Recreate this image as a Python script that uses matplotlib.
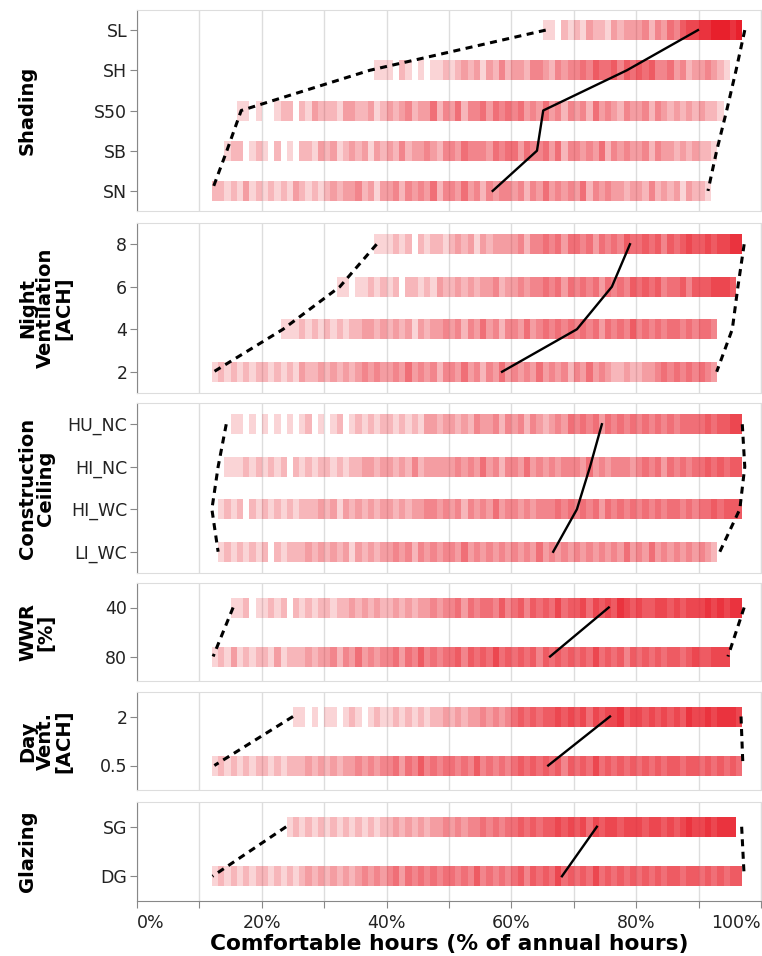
import matplotlib.pyplot as plt
import matplotlib.colors as mcolors
import numpy as np

W, H = 762, 956
RED = "#e8202c"

# strips: one shade digit (0 = empty .. 9 = darkest) per 1 % bin, from 10 % to 99 %
shading_labels = ["SL", "SH", "S50", "SB", "SN"]
shading_strips = [
    "0000000000 0000000000 0000000000 0000000000 0000000000 0000011021 2132213233 3424354677 8899989000",
    "0000000000 0000000000 0000000011 1021010112 1232313242 3324432434 4546556465 6564453423 3432100000",
    "0000001101 0012202132 2213322312 3234233524 3524453545 4534353424 3425343243 3424323232 3221000000",
    "0000122012 1020102213 2312323132 3242334324 4354443545 5354453524 4343524343 3424332323 2210000000",
    "0022121312 1212132121 2323342313 3424343524 4353424344 3424353434 3524343323 3242323132 2100000000",
]
shading_min = [65.5, 37.3, 16.7, 14.4, 12.0]
shading_median = [89.9, 78.5, 65.1, 64.1, 57.0]
shading_max = [97.4, 96.0, 94.5, 92.9, 91.5]

nightvent_labels = ["8", "6", "4", "2"]
nightvent_strips = [
    "0000000000 0000000000 0000000011 1212021221 2323132333 3424454535 5453545465 5656465676 6767788000",
    "0000000000 0000000000 0011011212 1202212132 2323233423 3434454535 4545354546 5656455646 6677760000",
    "0000000000 0001112121 2121223323 2323132334 3424353424 4353454545 4545354546 4545455454 5540000000",
    "0012121212 2121213223 2323234343 3435343424 4353424353 4343534342 4353432232 2334545454 5430000000",
]
nightvent_min = [38.4, 32.5, 23.4, 12.3]
nightvent_median = [79.0, 76.1, 70.5, 58.5]
nightvent_max = [97.3, 96.3, 95.4, 92.9]

ceiling_labels = ["HU_NC", "HI_NC", "HI_WC", "LI_WC"]
ceiling_strips = [
    "0000011010 1010101201 0120121212 2121213323 3232433424 3424323435 4545354545 4545454555 5656677000",
    "0000111212 1212021212 2121223323 3232423333 3434353424 4353434344 4353434443 4545354545 5656566000",
    "0001212021 2121212223 2313232323 3232334434 3424343534 4343444545 4545354545 4545455454 5565666000",
    "0001212121 2021222323 2323132323 3434243434 4353434343 4343534343 4343434353 4353434343 4320000000",
]
ceiling_min = [14.3, 13.0, 12.0, 13.0]
ceiling_median = [74.5, 72.6, 70.5, 66.7]
ceiling_max = [97.0, 97.4, 96.6, 93.4]

wwr_labels = ["40", "80"]
wwr_strips = [
    "0000011201 1212021212 2122323232 2323233434 4535455464 5646565756 6757676876 7667767677 7878788000",
    "0012131212 2131222323 3424353434 4535464545 5646565756 5656465656 5657565646 5656566567 6677700000",
]
wwr_min = [15.4, 12.2]
wwr_median = [75.6, 66.2]
wwr_max = [97.3, 94.7]

dayvent_labels = ["2", "0.5"]
dayvent_strips = [
    "0000000000 0000011010 1101210121 1212121223 2323343434 5656566767 6757677867 7676767687 7878887000",
    "0012121212 2121222323 2323343434 4535464545 5454645454 5656565646 5657565656 5656566566 5656565000",
]
dayvent_min = [25.0, 12.4]
dayvent_median = [75.8, 65.9]
dayvent_max = [96.8, 97.1]

glazing_labels = ["SG", "DG"]
glazing_strips = [
    "0000000000 0000121212 1212121212 2323232334 3434454545 5656566767 6757677677 7677676787 7878880000",
    "0012121212 2121212323 2323234343 4535454545 5454645454 5646565756 5657565656 5656566566 5656566000",
]
glazing_min = [23.9, 12.1]
glazing_median = [73.7, 68.1]
glazing_max = [96.9, 97.3]

panels = [
    ("Shading", shading_labels, shading_strips, shading_min, shading_median, shading_max),
    ("Night\nVentilation\n[ACH]", nightvent_labels, nightvent_strips, nightvent_min, nightvent_median, nightvent_max),
    ("Construction\nCeiling", ceiling_labels, ceiling_strips, ceiling_min, ceiling_median, ceiling_max),
    ("WWR\n[%]", wwr_labels, wwr_strips, wwr_min, wwr_median, wwr_max),
    ("Day\nVent.\n[ACH]", dayvent_labels, dayvent_strips, dayvent_min, dayvent_median, dayvent_max),
    ("Glazing", glazing_labels, glazing_strips, glazing_min, glazing_median, glazing_max),
]

# panel top / bottom in pixels
bounds = [(10, 211), (223, 393), (403, 573), (583, 681), (692, 790), (802, 901)]
LEFT, RIGHT = 137, 761
STRIP_PX = 20


def strip_row(ax, y, code, height):
    shades = np.array([int(c) for c in code.replace(" ", "")])
    left = np.arange(shades.size) + 10
    colors = np.zeros((shades.size, 4))
    colors[:, :3] = mcolors.to_rgb(RED)
    colors[:, 3] = (shades / 9) ** 0.75
    keep = shades > 0
    ax.barh(np.full(keep.sum(), y), 1, left=left[keep], height=height,
            color=colors[keep], linewidth=0)


fig = plt.figure(figsize=(W / 100, H / 100), dpi=100)

for k, ((title, labels, strips, lo, med, hi), (top, bot)) in enumerate(zip(panels, bounds)):
    ax = fig.add_axes([LEFT / W, 1 - bot / H, (RIGHT - LEFT) / W, (bot - top) / H])
    n = len(labels)
    rows = np.arange(n)
    band = (bot - top) / n
    for y, code in zip(rows, strips):
        strip_row(ax, y, code, STRIP_PX / band)

    ax.plot(lo, rows, color="black", lw=2.2, ls="--", dashes=(2.3, 1.8))
    ax.plot(hi, rows, color="black", lw=2.2, ls="--", dashes=(2.3, 1.8))
    ax.plot(med, rows, color="black", lw=1.7)

    ax.set_xlim(0, 100)
    ax.set_ylim(n - 0.5, -0.5)
    ax.set_xticks(np.arange(0, 101, 10))
    ax.grid(axis="x", color="#dddddd", lw=1)
    ax.set_axisbelow(True)
    for side in ["top", "right", "bottom"]:
        ax.spines[side].set_color("#dddddd")
    ax.spines["left"].set_color("#888888")
    ax.set_yticks(rows)
    ax.set_yticklabels(labels)
    ax.tick_params(axis="y", length=5, color="#888888", labelsize=12.5, pad=2,
                   labelcolor="#222222")

    if k == len(panels) - 1:
        ax.spines["bottom"].set_color("#888888")
        ax.set_xticklabels([f"{v}%" if v % 20 == 0 else "" for v in range(0, 101, 10)])
        ax.tick_params(axis="x", length=5, color="#888888", labelsize=12.5, pad=4,
                       labelcolor="#222222")
        ticklabels = ax.get_xticklabels()
        ticklabels[0].set_horizontalalignment("left")
        ticklabels[-1].set_horizontalalignment("right")
    else:
        ax.tick_params(axis="x", length=0, labelbottom=False)

    fig.text(18 / W, 1 - (top + bot) / 2 / H, title, rotation=90, ha="left", va="center",
             fontsize=14, fontweight="bold", multialignment="center", linespacing=0.95)

fig.text((LEFT + RIGHT) / 2 / W, 1 - 950 / H, "Comfortable hours (% of annual hours)",
         ha="center", va="baseline", fontsize=15.7, fontweight="bold")

fig.savefig("out.png", dpi=100)
